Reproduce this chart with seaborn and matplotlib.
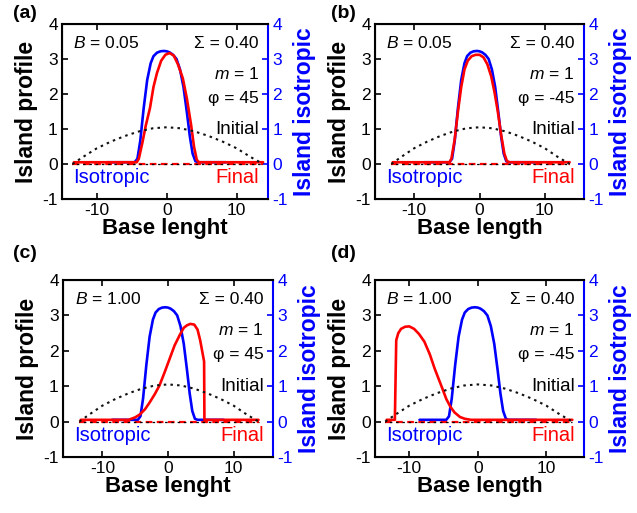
import numpy as np
import pandas as pd
import seaborn as sns
import matplotlib
matplotlib.use('Agg')
from matplotlib import pyplot as plt

sns.set_style('ticks')
plt.rcParams['font.family'] = ['Liberation Sans', 'DejaVu Sans']
plt.rcParams['axes.unicode_minus'] = False
plt.rcParams['mathtext.fontset'] = 'custom'
plt.rcParams['mathtext.it'] = 'Liberation Sans:italic'
plt.rcParams['mathtext.rm'] = 'Liberation Sans'
plt.rcParams['text.color'] = 'black'
plt.rcParams['axes.labelcolor'] = 'black'

# isotropic island (same in every panel, right axis)
iso_x = [-8.5, -4.6, -4.2, -3.8, -3.3, -2.8, -2.3, -1.9, -1.4, -0.9, -0.4, 0.0, 0.4,
         0.9, 1.4, 1.9, 2.4, 2.9, 3.3, 3.7, 4.1, 4.5, 8.5]
iso_y = [0.05, 0.05, 0.15, 0.65, 1.6, 2.4, 2.88, 3.08, 3.18, 3.22, 3.23, 3.22, 3.19,
         3.12, 3.0, 2.7, 2.2, 1.45, 0.8, 0.3, 0.08, 0.05, 0.05]

# initial profile (dotted)
init_x = [-13.5, -12, -10, -8, -6, -4, -2, 0, 2, 4, 6, 8, 10, 12, 13.8]
init_y = [0.0, 0.2, 0.45, 0.64, 0.8, 0.93, 1.02, 1.05, 1.02, 0.93, 0.8, 0.64, 0.45, 0.2, 0.0]

# substrate baseline
base_x = [-13.5, 13.8]
base_y = [0.0, 0.0]

# final profiles
final_a_x = [-13.3, -4.3, -4.0, -3.5, -3.0, -2.4, -1.9, -1.4, -0.8, -0.2, 0.4, 1.0,
             1.6, 2.3, 2.9, 3.5, 3.9, 4.3, 4.6, 13.8]
final_a_y = [0.05, 0.05, 0.15, 0.6, 1.1, 1.6, 2.2, 2.6, 2.95, 3.12, 3.17, 3.1,
             2.85, 2.45, 1.85, 1.1, 0.5, 0.12, 0.05, 0.05]

final_b_x = [-13.3, -4.6, -4.3, -3.8, -3.3, -2.8, -2.3, -1.8, -1.2, -0.6, 0.0, 0.6,
             1.2, 1.8, 2.3, 2.8, 3.3, 3.8, 4.2, 4.6, 13.8]
final_b_y = [0.05, 0.05, 0.15, 0.7, 1.5, 2.2, 2.7, 2.95, 3.08, 3.12, 3.12, 3.05,
             2.85, 2.5, 2.05, 1.5, 0.85, 0.3, 0.08, 0.05, 0.05]

final_c_x = [-13.3, -6.0, -5.0, -4.3, -3.5, -2.8, -2.0, -1.3, -0.5, 0.3, 1.0, 1.8,
             2.4, 2.9, 3.4, 4.0, 4.5, 4.9, 5.2, 5.5, 5.55, 13.8]
final_c_y = [0.05, 0.05, 0.12, 0.2, 0.35, 0.54, 0.78, 1.02, 1.4, 1.8, 2.15, 2.45,
             2.65, 2.72, 2.76, 2.74, 2.6, 2.3, 2.0, 1.7, 0.05, 0.05]

final_d_x = [-13.3, -12.1, -12.0, -11.9, -11.6, -11.2, -10.6, -10.0, -9.3, -8.6, -7.8,
             -7.0, -6.3, -5.7, -5.2, -4.6, -4.0, -3.4, -2.6, -1.9, -1.0, 13.8]
final_d_y = [0.05, 0.05, 1.2, 2.3, 2.5, 2.62, 2.68, 2.69, 2.62, 2.48, 2.26,
             1.9, 1.5, 1.2, 0.95, 0.64, 0.42, 0.26, 0.13, 0.08, 0.05, 0.05]

panel_labels = ['(a)', '(b)', '(c)', '(d)']
b_values = ['0.05', '0.05', '1.00', '1.00']
phi_values = ['45', '-45', '45', '-45']
x_titles = ['Base lenght', 'Base length', 'Base lenght', 'Base length']
y_ticks = [-1, 0, 1, 2, 3, 4]
x_ticks = [-10, 0, 10]

finals = [(final_a_x, final_a_y), (final_b_x, final_b_y),
          (final_c_x, final_c_y), (final_d_x, final_d_y)]

W, H = 637, 513
# axes boxes in pixels: left, top, right, bottom
boxes = [(62, 24, 268, 199), (375, 24, 584, 199),
         (63, 280, 273, 457), (375, 280, 584, 457)]
xlims = [(-15, 14.5), (-16, 16), (-16, 16), (-15, 15.5)]
label_pos = [(13, 13), (331, 13), (13, 254), (331, 254)]

BLUE = '#0000ff'
RED = '#ff0000'

fig = plt.figure(figsize=(W / 100, H / 100), dpi=100)

for i in range(4):
    l, t, r, b = boxes[i]
    ax = fig.add_axes([l / W, 1 - b / H, (r - l) / W, (b - t) / H])
    ax2 = ax.twinx()
    ax.set_zorder(2)
    ax2.set_zorder(1)
    ax.patch.set_visible(False)

    sns.lineplot(x=iso_x, y=iso_y, ax=ax2, color=BLUE, lw=1.9, estimator=None, sort=False)
    sns.lineplot(x=base_x, y=base_y, ax=ax, color=RED, lw=1.6, estimator=None, sort=False,
                 linestyle=(0, (3, 2)))
    fx, fy = finals[i]
    sns.lineplot(x=fx, y=fy, ax=ax, color=RED, lw=1.9, estimator=None, sort=False)
    sns.lineplot(x=base_x, y=base_y, ax=ax, color='black', lw=0.9, estimator=None, sort=False,
                 linestyle=(1.5, (2, 3)))
    sns.lineplot(x=init_x, y=init_y, ax=ax, color='#111111', lw=1.5, estimator=None, sort=False,
                 linestyle=(0, (1.2, 2.0)))

    ax.set_xlim(*xlims[i])
    ax.set_ylim(-1, 4)
    ax2.set_ylim(-1, 4)
    ax.set_xticks(x_ticks)
    ax.set_yticks(y_ticks)
    ax2.set_yticks(y_ticks)

    for s in ['left', 'top', 'bottom']:
        ax.spines[s].set_color('black')
        ax.spines[s].set_linewidth(1.5)
    ax.spines['right'].set_visible(False)
    ax2.spines['right'].set_color(BLUE)
    ax2.spines['right'].set_linewidth(1.5)

    ax.tick_params(axis='both', direction='in', length=4, width=1.2, labelsize=12.5,
                   colors='black', pad=3)
    ax.tick_params(axis='x', top=True)
    ax2.tick_params(axis='y', direction='in', length=4, width=1.2, labelsize=12.5,
                    colors=BLUE, pad=3)

    ax.set_xlabel(x_titles[i], fontsize=16, fontweight='bold', labelpad=0, color='black')
    ax.set_ylabel('Island profile', fontsize=16.5, fontweight='bold', labelpad=3, color='black')
    ax2.set_ylabel('Island isotropic', fontsize=16.5, fontweight='bold', color=BLUE, labelpad=4)

    tr = ax.transAxes
    ax.text(0.055, 0.89, r'$B$ = ' + b_values[i], transform=tr, fontsize=12.5, va='center', ha='left')
    ax.text(0.955, 0.89, 'Σ = 0.40', transform=tr, fontsize=12.5, va='center', ha='right')
    ax.text(0.955, 0.715, r'$m$ = 1', transform=tr, fontsize=12.5, va='center', ha='right')
    ax.text(0.955, 0.577, 'φ = ' + phi_values[i], transform=tr, fontsize=12.5, va='center', ha='right')
    ax.text(0.955, 0.397, 'Initial', transform=tr, fontsize=13.5, va='center', ha='right')
    ax.text(0.055, 0.123, 'Isotropic', transform=tr, fontsize=14.5, va='center', ha='left', color=BLUE)
    ax.text(0.955, 0.123, 'Final', transform=tr, fontsize=14.5, va='center', ha='right', color=RED)

    px, py = label_pos[i]
    fig.text(px / W, 1 - py / H, panel_labels[i], fontsize=14, fontweight='bold',
             ha='left', va='center', color='black')

fig.savefig('out.png', dpi=100)
